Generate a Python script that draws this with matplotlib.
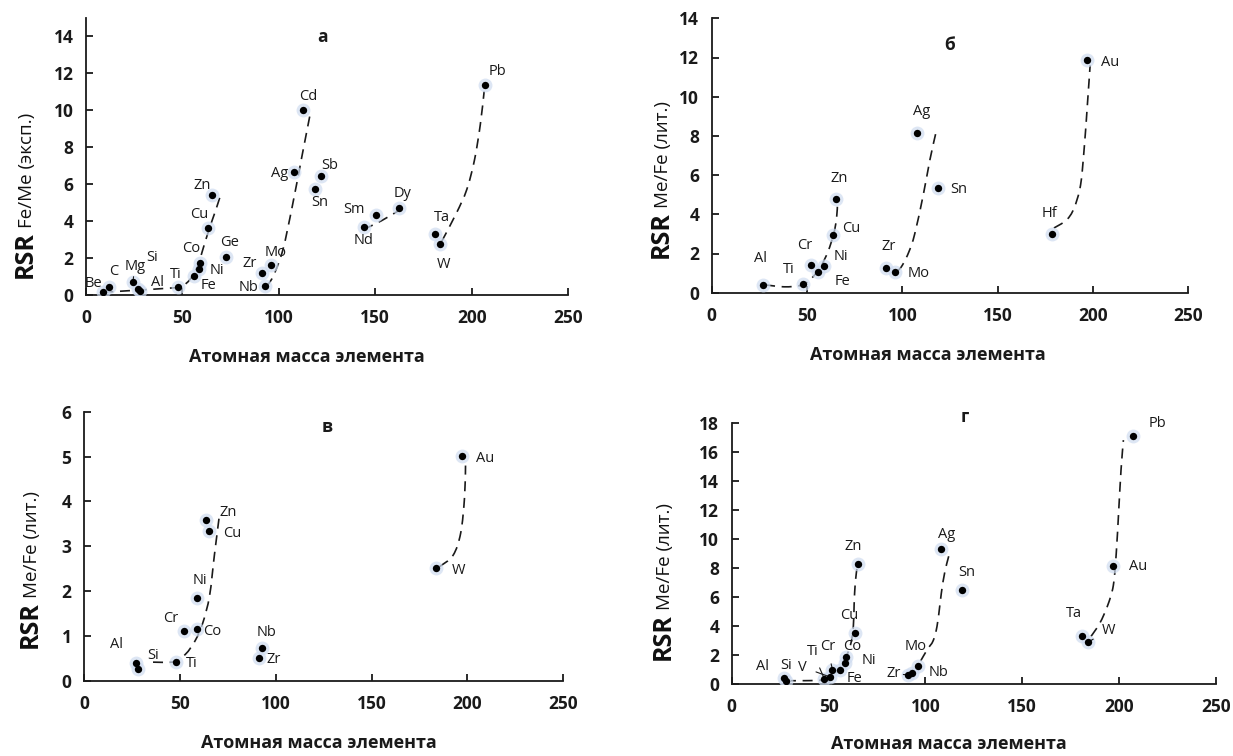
import matplotlib
matplotlib.use("Agg")
import matplotlib.pyplot as plt
from matplotlib.path import Path
from matplotlib.patches import PathPatch

plt.rcParams['font.family'] = ['Open Sans', 'DejaVu Sans']

# ---------------- data ----------------
# panel а
names_a = ["Be", "C", "Mg", "Al", "Si", "Ti", "Fe", "Ni", "Co", "Cu", "Zn", "Ge", "Zr", "Nb", "Mo",
           "Ag", "Cd", "Sn", "Sb", "Nd", "Sm", "Dy", "Ta", "W", "Pb"]
mass_a = [9.0, 12.0, 24.3, 27.0, 28.1, 47.9, 55.8, 58.7, 58.9, 63.5, 65.4, 72.6, 91.2, 92.9, 96.0,
          107.9, 112.4, 118.7, 121.8, 144.2, 150.4, 162.5, 180.9, 183.8, 207.2]
rsr_a = [0.15, 0.45, 0.68, 0.35, 0.22, 0.42, 1.03, 1.40, 1.75, 3.64, 5.40, 2.07, 1.21, 0.50, 1.62,
         6.63, 10.0, 5.71, 6.45, 3.66, 4.31, 4.72, 3.30, 2.77, 11.35]
curves_a = [
    ([9, 25, 40, 49, 54, 58, 61, 64, 67, 69.5], [0.15, 0.25, 0.35, 0.45, 0.85, 1.6, 2.6, 3.6, 4.5, 5.3]),
    ([93.5, 97, 102, 107, 112, 116.5], [0.45, 1.0, 2.4, 4.8, 7.5, 9.9]),
    ([144, 153, 162], [3.55, 4.0, 4.55]),
    ([184.5, 192, 197.5, 201.5, 204.5, 206.5], [2.9, 4.4, 5.7, 7.3, 9.2, 11.0]),
]

# panel б
names_b = ["Al", "Ti", "Cr", "Fe", "Ni", "Cu", "Zn", "Zr", "Mo", "Ag", "Sn", "Hf", "Au"]
mass_b = [27.0, 47.9, 52.0, 55.8, 58.7, 63.5, 65.4, 91.2, 96.0, 107.9, 118.7, 178.5, 197.0]
rsr_b = [0.39, 0.44, 1.41, 1.07, 1.38, 2.94, 4.76, 1.24, 1.07, 8.16, 5.36, 2.98, 11.87]
curves_b = [
    ([28, 38, 47, 52, 57, 61, 64, 65.5, 66], [0.4, 0.3, 0.38, 0.7, 1.3, 2.1, 3.0, 3.8, 4.6]),
    ([97.5, 100, 103.5, 106.5, 111, 114.5, 117.7], [1.1, 1.4, 2.1, 3.0, 5.0, 6.8, 8.2]),
    ([179.5, 186, 190, 193.5, 195.5, 197, 198.5], [3.3, 3.7, 4.3, 5.5, 7.5, 9.5, 11.6]),
]

# panel в
names_c = ["Al", "Si", "Ti", "Cr", "Co", "Ni", "Cu", "Zn", "Zr", "Nb", "W", "Au"]
mass_c = [27.0, 28.1, 47.9, 52.0, 58.9, 58.7, 63.5, 65.4, 91.2, 92.9, 183.8, 197.0]
rsr_c = [0.41, 0.26, 0.43, 1.12, 1.15, 1.84, 3.59, 3.34, 0.52, 0.73, 2.51, 5.01]
curves_c = [
    ([36, 47, 53, 58, 62, 65.5, 68, 70.5], [0.42, 0.43, 0.6, 0.9, 1.3, 1.9, 2.8, 3.65]),
    ([185.5, 192.5, 196.5, 198.5, 199], [2.55, 2.8, 3.3, 4.1, 4.8]),
]

# panel г
names_d = ["Al", "Si", "Ti", "V", "Cr", "Fe", "Ni", "Co", "Cu", "Zn", "Zr", "Nb", "Mo", "Ag", "Sn",
           "Ta", "W", "Au", "Pb"]
mass_d = [27.0, 28.1, 47.9, 50.9, 52.0, 55.8, 58.7, 58.9, 63.5, 65.4, 91.2, 92.9, 96.0, 107.9, 118.7,
          180.9, 183.8, 197.0, 207.2]
rsr_d = [0.41, 0.20, 0.35, 0.50, 1.0, 1.0, 1.45, 1.9, 3.5, 8.25, 0.65, 0.75, 1.28, 9.3, 6.49,
         3.35, 2.89, 8.14, 17.08]
curves_d = [
    ([28, 38, 47, 51, 55, 58.5, 61.5, 62.8, 63.2, 63.8, 64.8],
     [0.25, 0.25, 0.3, 0.55, 1.0, 1.7, 2.8, 4.0, 5.5, 7.0, 8.1]),
    ([97.5, 101, 104, 106, 107.5, 109, 111, 112.7], [1.6, 2.4, 3.0, 4.0, 5.5, 7.0, 8.3, 9.1]),
    ([185.5, 190, 194, 197, 198.5, 199.8, 201, 202.2], [3.3, 4.2, 5.4, 6.8, 9.0, 12.0, 14.8, 16.8]),
]

# label offsets in pixels (dx, dy) and which labels have a leader line
offs_a = [(-10, 9), (5, 15), (2, 16), (19, 6), (12, 33), (-3, 13), (15, -10), (18, -1), (-8, 14), (-9, 13),
          (-10, 10), (4, 14), (-12, 9), (-17, -2), (5, 13), (-14, -1), (6, 13), (5, -13), (9, 10), (0, -13),
          (-22, 6), (3, 14), (7, 16), (3, -21), (12, 14)]
offs_b = [(-3, 27), (-14, 15), (-6, 20), (24, -10), (17, 9), (18, 7), (3, 21), (3, 22), (24, -2), (4, 21),
          (21, -2), (-2, 21), (23, -2)]
offs_c = [(-19, 18), (15, 14), (16, -2), (-13, 12), (15, -2), (3, 18), (27, -14), (19, 19), (15, -2),
          (4, 16), (22, -2), (23, -2)]
offs_d = [(-22, 12), (0, 16), (-12, 28), (-28, 10), (-5, 23), (15, -9), (23, 3), (6, 10), (-5, 18), (-5, 18),
          (-15, 1), (27, 1), (-2, 19), (6, 15), (5, 17), (-8, 22), (21, 12), (25, -1), (24, 13)]
leaders_a = ["Mg"]
leaders_d = ["Ti", "V", "Cr", "Zr", "Mo", "W"]

W_PX, H_PX = 1233, 756
fig = plt.figure(figsize=(12.33, 7.56), dpi=100)


def smooth_path(xs, ys):
    pts = list(zip(xs, ys))
    verts = [pts[0]]
    codes = [Path.MOVETO]
    for i in range(len(pts) - 1):
        p0 = pts[i - 1] if i > 0 else pts[i]
        p1 = pts[i]
        p2 = pts[i + 1]
        p3 = pts[i + 2] if i + 2 < len(pts) else p2
        c1 = (p1[0] + (p2[0] - p0[0]) / 6, p1[1] + (p2[1] - p0[1]) / 6)
        c2 = (p2[0] - (p3[0] - p1[0]) / 6, p2[1] - (p3[1] - p1[1]) / 6)
        verts += [c1, c2, p2]
        codes += [Path.CURVE4] * 3
    return Path(verts, codes)


def panel(box, ymax, yticks, names, mass, rsr, offs, curves, title, title_pos, leaders,
          xlabel_pos, ylabel_pos, sub):
    l, b, r, t = box
    ax = fig.add_axes([l / W_PX, 1 - b / H_PX, (r - l) / W_PX, (b - t) / H_PX])
    ax.set_xlim(0, 250)
    ax.set_ylim(0, ymax)
    ax.set_xticks([0, 50, 100, 150, 200, 250])
    ax.set_yticks(yticks)
    for s in ["top", "right"]:
        ax.spines[s].set_visible(False)
    for s in ["left", "bottom"]:
        ax.spines[s].set_linewidth(1.3)
        ax.spines[s].set_color("#1a1a1a")
    ax.tick_params(direction="in", length=5, width=1.3, color="#1a1a1a", labelsize=12.5,
                   labelcolor="#1a1a1a")
    ax.tick_params(axis="x", pad=10)
    ax.tick_params(axis="y", pad=9)
    for lab in ax.get_xticklabels() + ax.get_yticklabels():
        lab.set_fontweight("bold")
    ax.patch.set_alpha(0)

    for xs, ys in curves:
        ax.add_patch(PathPatch(smooth_path(xs, ys), fill=False, color="#1a1a1a", lw=1.2,
                               ls=(0, (6, 4))))
    ax.scatter(mass, rsr, s=100, color="#cfdcf0", alpha=0.7, lw=0, zorder=3)
    ax.scatter(mass, rsr, s=28, color="black", lw=0, zorder=4)

    for n, x, y, (dx, dy) in zip(names, mass, rsr, offs):
        if n in leaders:
            ax.annotate(n, (x, y), xytext=(dx, dy), textcoords="offset pixels", ha="center",
                        va="center", fontsize=10.5, color="#1a1a1a",
                        arrowprops=dict(arrowstyle="-", lw=0.8, color="#1a1a1a", shrinkA=5, shrinkB=2))
        else:
            ax.annotate(n, (x, y), xytext=(dx, dy), textcoords="offset pixels", ha="center",
                        va="center", fontsize=10.5, color="#1a1a1a")

    ax.text(title_pos[0], title_pos[1], title, transform=ax.transAxes, ha="center", va="center",
            fontsize=12.5, fontweight="bold", color="#1a1a1a")

    fig.text(xlabel_pos[0] / W_PX, 1 - xlabel_pos[1] / H_PX, "Атомная масса элемента",
             ha="center", va="center", fontsize=13, fontweight="bold", color="#1a1a1a")

    # y axis title: big "RSR" followed by smaller subscript text
    xb, yb = ylabel_pos
    fig.text(xb / W_PX, 1 - yb / H_PX, "RSR", rotation=90, rotation_mode="anchor", ha="left",
             va="baseline", fontsize=18, fontweight="bold", color="#111111")
    fig.text(xb / W_PX, 1 - (yb - 50) / H_PX, sub, rotation=90, rotation_mode="anchor", ha="left",
             va="baseline", fontsize=13.5, color="#111111")
    return ax


panel((86, 295, 568, 17.5), 15, range(0, 15, 2), names_a, mass_a, rsr_a, offs_a, curves_a,
      "а", (0.491, 0.931), leaders_a, (307, 357), (32, 278), "Fe/Me (эксп.)")
panel((711.7, 292.7, 1188.3, 18.3), 14, range(0, 15, 2), names_b, mass_b, rsr_b, offs_b, curves_b,
      "б", (0.5, 0.903), [], (928, 355), (668, 258), "Me/Fe (лит.)")
panel((84, 681, 563.3, 411.7), 6, range(0, 7), names_c, mass_c, rsr_c, offs_c, curves_c,
      "в", (0.508, 0.942), [], (319, 743), (37, 648), "Me/Fe (лит.)")
panel((731.7, 684.3, 1216, 422.7), 18, range(0, 19, 2), names_d, mass_d, rsr_d, offs_d, curves_d,
      "г", (0.482, 1.023), leaders_d, (949, 744), (670, 660), "Me/Fe (лит.)")

fig.savefig("out.png", dpi=100, facecolor="white")
